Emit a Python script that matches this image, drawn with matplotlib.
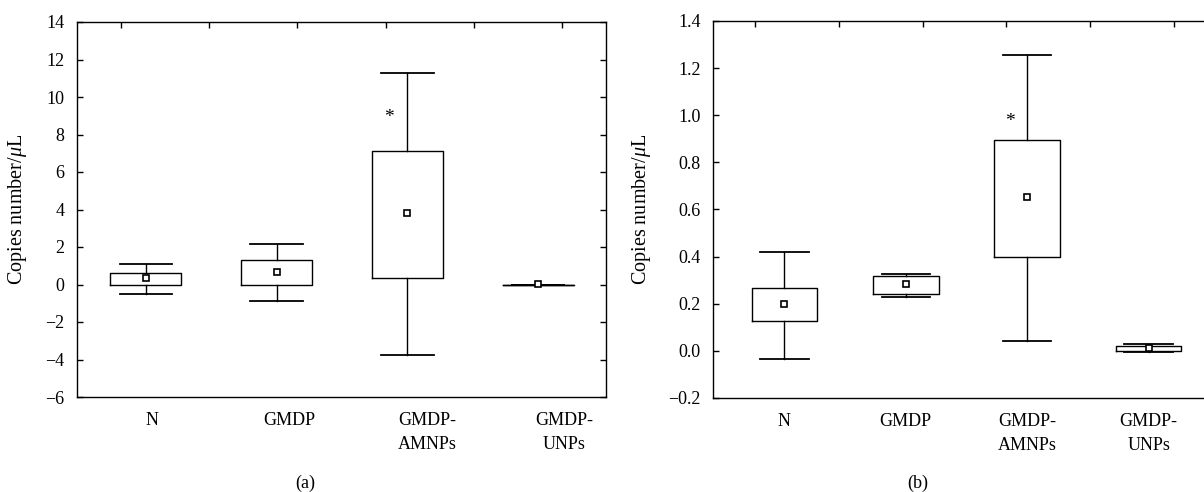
import numpy as np
import matplotlib
matplotlib.use('Agg')
import matplotlib.pyplot as plt

plt.rcParams['font.family'] = ['Liberation Serif', 'DejaVu Serif']
plt.rcParams['mathtext.fontset'] = 'custom'
plt.rcParams['mathtext.rm'] = 'Liberation Serif'
plt.rcParams['mathtext.it'] = 'Liberation Serif:italic'
plt.rcParams['font.size'] = 13

# Данные
groups = ['N', 'GMDP', 'GMDP-\nAMNPs', 'GMDP-\nUNPs']

# панель (a)
a_whislo = [-0.53, -0.90, -3.74, 0.0]
a_q1 = [0.0, 0.0, 0.33, 0.0]
a_q3 = [0.64, 1.30, 7.10, 0.0]
a_whishi = [1.12, 2.15, 11.30, 0.0]
a_mean = [0.33, 0.67, 3.82, 0.02]
a_star = 8.9

# панель (b)
b_whislo = [-0.035, 0.228, 0.043, -0.006]
b_q1 = [0.128, 0.243, 0.400, 0.0]
b_q3 = [0.265, 0.318, 0.894, 0.022]
b_whishi = [0.420, 0.327, 1.255, 0.031]
b_mean = [0.200, 0.284, 0.651, 0.012]
b_star = 0.975


def make_stats(lo, q1, q3, hi, mean):
    stats = []
    for i in range(len(lo)):
        stats.append({'whislo': lo[i], 'q1': q1[i], 'med': mean[i], 'q3': q3[i],
                      'whishi': hi[i], 'mean': mean[i], 'fliers': []})
    return stats


def draw_panel(ax, stats, xlim, ylim, yticks, label_pos, star_y, ylabel_x):
    pos = np.arange(1, len(stats) + 1)
    ax.bxp(stats, positions=pos, widths=0.54, capwidths=0.4,
           showmeans=True, showfliers=False,
           boxprops=dict(color='black', linewidth=1.0),
           whiskerprops=dict(color='black', linewidth=1.0),
           capprops=dict(color='black', linewidth=1.3),
           medianprops=dict(visible=False),
           meanprops=dict(marker='s', markersize=5, markerfacecolor='white',
                          markeredgecolor='black', markeredgewidth=1.2))
    ax.set_xlim(*xlim)
    ax.set_ylim(*ylim)
    ax.set_yticks(yticks)
    ax.set_xticks(label_pos)
    ax.set_xticklabels(groups, linespacing=1.6)
    # верхние засечки
    top = xlim[0] + (np.arange(6) + 0.5) * (xlim[1] - xlim[0]) / 6
    ax.set_xticks(top, minor=True)
    ax.tick_params(axis='x', which='major', bottom=False, top=False, pad=7)
    ax.tick_params(axis='x', which='minor', bottom=False, top=True,
                   direction='in', length=4, width=1)
    ax.tick_params(axis='y', which='major', left=True, right=True,
                   direction='in', length=4, width=1, pad=9)
    for s in ax.spines.values():
        s.set_linewidth(1.0)
    ax.set_ylabel('Copies number/$\\mu$L', fontsize=14.5)
    ax.yaxis.set_label_coords(ylabel_x, 0.5)
    ax.text(pos[2] - 0.14, star_y, '*', ha='center', va='center', fontsize=14)


fig = plt.figure(figsize=(12.04, 4.92), dpi=100)
ax1 = fig.add_axes([77 / 1204, 1 - 397 / 492, 529 / 1204, 375 / 492])
ax2 = fig.add_axes([713 / 1204, 1 - 398 / 492, 503 / 1204, 377 / 492])

draw_panel(ax1, make_stats(a_whislo, a_q1, a_q3, a_whishi, a_mean),
           (0.474, 4.518), (-6, 14), np.arange(-6, 15, 2),
           np.linspace(1.05, 4.2, 4), a_star, -48 / 529)
ax1.set_yticklabels(['\u22126', '\u22124', '\u22122', '0', '2', '4', '6', '8', '10', '12', '14'])

draw_panel(ax2, make_stats(b_whislo, b_q1, b_q3, b_whishi, b_mean),
           (0.412, 4.555), (-0.2, 1.4), np.arange(-0.2, 1.41, 0.2),
           np.arange(1, 5), b_star, -60 / 503)
ax2.set_yticklabels(['\u22120.2', '0.0', '0.2', '0.4', '0.6', '0.8', '1.0', '1.2', '1.4'])

fig.text(305 / 1204, 1 - 483 / 492, '(a)', ha='center', va='center', fontsize=13)
fig.text(918 / 1204, 1 - 483 / 492, '(b)', ha='center', va='center', fontsize=13)

fig.savefig('out.png', dpi=100)
